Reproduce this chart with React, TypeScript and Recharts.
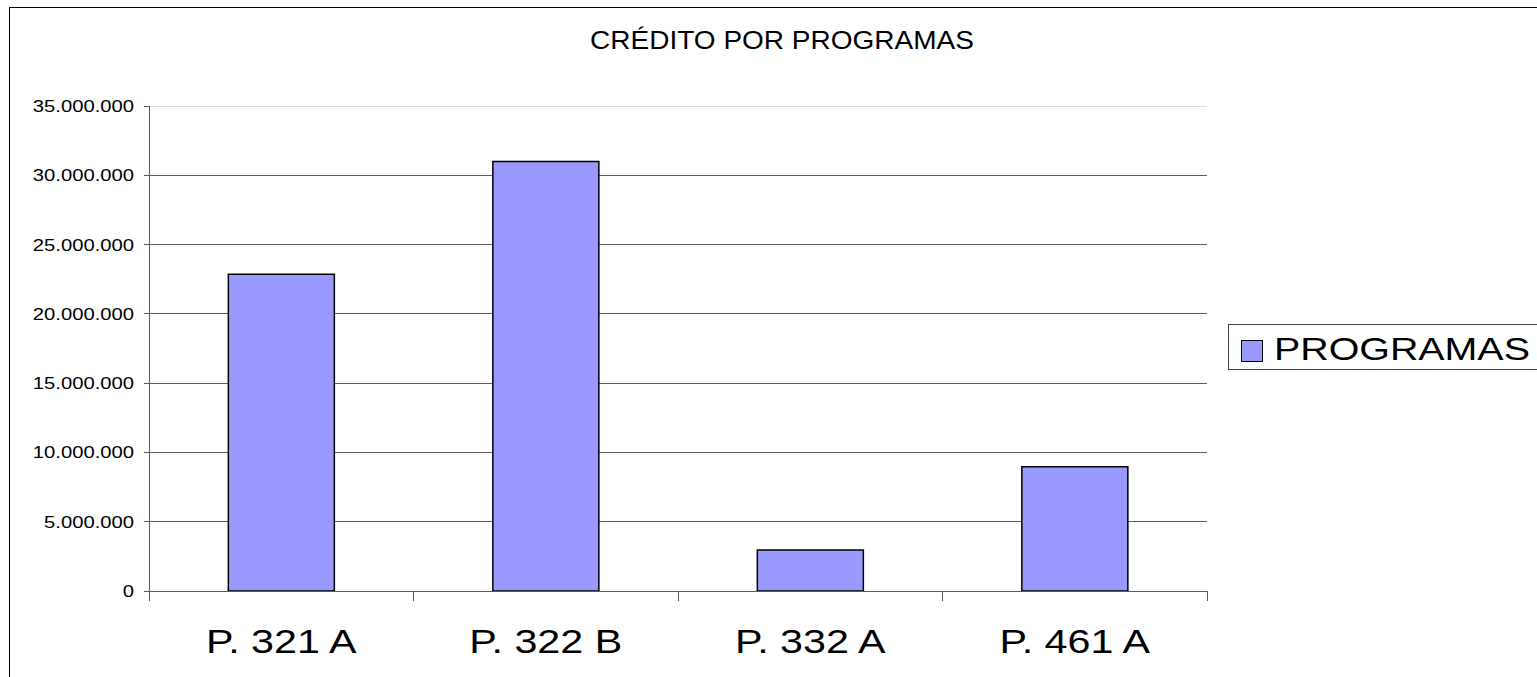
import { Bar, BarChart, CartesianGrid, XAxis, YAxis } from 'recharts';

const programas = ['P. 321 A', 'P. 322 B', 'P. 332 A', 'P. 461 A'];
const creditos = [22850000, 31000000, 2950000, 8970000];
const yTicks = [0, 5000000, 10000000, 15000000, 20000000, 25000000, 30000000, 35000000];
const serieName = 'PROGRAMAS';
const title = 'CRÉDITO POR PROGRAMAS';

const data = programas.map((p, i) => ({ programa: p, PROGRAMAS: creditos[i] }));

const font = '"Liberation Sans", Arial, sans-serif';
const fill = '#9999FF';
const gridColor = '#5a5a5a';

const fmt = (v: number) => String(v).replace(/\B(?=(\d{3})+(?!\d))/g, '.');

function XTick(props: any) {
  const { x, y, payload, index, visibleTicksCount } = props;
  const half = payload?.offset ?? 132;
  const last = index === visibleTicksCount - 1;
  return (
    <g>
      <line x1={x - half} x2={x - half} y1={y} y2={y + 10} stroke={gridColor} shapeRendering="crispEdges" />
      {last && (
        <line x1={x + half} x2={x + half} y1={y} y2={y + 10} stroke={gridColor} shapeRendering="crispEdges" />
      )}
      <text
        transform={`translate(${x},${y + 62}) scale(1.25,1)`}
        textAnchor="middle"
        fontFamily={font}
        fontSize={33}
        fill="#000"
      >
        {payload.value}
      </text>
    </g>
  );
}

function YTick(props: any) {
  const { x, y, payload } = props;
  return (
    <text
      transform={`translate(${x},${y + 6}) scale(1.19,1)`}
      textAnchor="end"
      fontFamily={font}
      fontSize={17}
      fill="#000"
    >
      {fmt(payload.value)}
    </text>
  );
}

function gridLine(props: any) {
  const { x1, x2, y1, y2, y } = props;
  const top = Math.abs(y1 - y) < 1;
  return (
    <line
      key={props.key}
      x1={x1}
      x2={x2}
      y1={y1}
      y2={y2}
      stroke={top ? '#d8d8d8' : gridColor}
      shapeRendering="crispEdges"
    />
  );
}

function LegendBox() {
  return (
    <div
      style={{
        position: 'absolute',
        left: 1228,
        top: 324,
        display: 'flex',
        alignItems: 'center',
        border: '1px solid #444',
        height: 46,
        width: 400,
        paddingLeft: 12,
        boxSizing: 'border-box',
        background: '#fff',
      }}
    >
      <span
        style={{
          width: 22,
          height: 22,
          marginTop: 7,
          background: fill,
          border: '1px solid #000',
          boxSizing: 'border-box',
          display: 'inline-block',
        }}
      />
      <span
        style={{
          fontFamily: font,
          fontSize: 32,
          lineHeight: '32px',
          color: '#000',
          marginLeft: 11,
          marginTop: 4,
          display: 'inline-block',
          transform: 'scale(1.23,1)',
          transformOrigin: 'left center',
        }}
      >
        {serieName}
      </span>
    </div>
  );
}

export default function App() {
  return (
    <div style={{ position: 'absolute', left: 0, top: 0, width: 1537, height: 677, overflow: 'hidden', background: '#fff' }}>
      <div
        style={{
          position: 'absolute',
          left: 9,
          top: 7,
          width: 1600,
          height: 800,
          borderLeft: '1.5px solid #000',
          borderTop: '1.5px solid #000',
        }}
      />
      <div
        style={{
          position: 'absolute',
          left: 582,
          width: 400,
          top: 26,
          textAlign: 'center',
          fontFamily: font,
          fontSize: 25,
          color: '#000',
          transform: 'scale(1.12,1)',
        }}
      >
        {title}
      </div>
      <div style={{ position: 'absolute', left: 0, top: 0 }}>
        <BarChart
          width={1537}
          height={677}
          data={data}
          margin={{ top: 106, right: 330, bottom: 0, left: 10 }}
          barCategoryGap="30%"
        >
          <CartesianGrid vertical={false} horizontal={gridLine} />
          <XAxis
            dataKey="programa"
            height={86}
            axisLine={{ stroke: gridColor, shapeRendering: 'crispEdges' }}
            tickLine={false}
            tickSize={0}
            tickMargin={0}
            tick={<XTick />}
            interval={0}
          />
          <YAxis
            width={139}
            domain={[0, 35000000]}
            ticks={yTicks}
            interval={0}
            axisLine={{ stroke: gridColor, shapeRendering: 'crispEdges' }}
            tickLine={{ stroke: gridColor, shapeRendering: 'crispEdges' }}
            tickSize={5}
            tickMargin={10}
            tick={<YTick />}
          />
          <Bar dataKey="PROGRAMAS" fill={fill} stroke="#000" strokeWidth={1.5} isAnimationActive={false} />
        </BarChart>
      </div>
      <LegendBox />
    </div>
  );
}
